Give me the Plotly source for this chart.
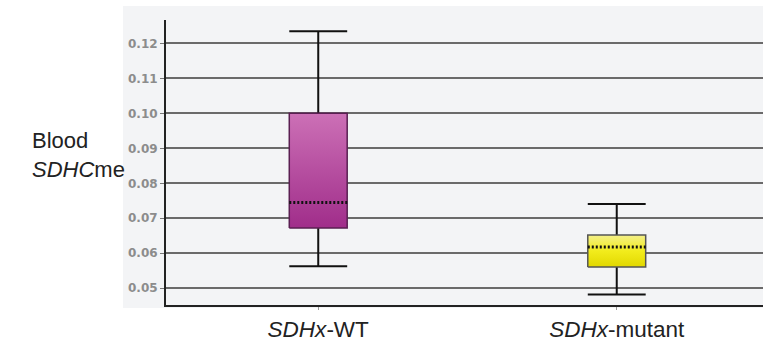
import plotly.graph_objects as go

# ---- data ----
categories = ["SDHx-WT", "SDHx-mutant"]
tick_text = ["<i>SDHx</i>-WT", "<i>SDHx</i>-mutant"]
lower_whisker = [0.0563, 0.0482]
q1 = [0.0672, 0.0561]
median = [0.0745, 0.0618]
q3 = [0.1000, 0.0652]
upper_whisker = [0.1235, 0.0741]
y_ticks = [0.05, 0.06, 0.07, 0.08, 0.09, 0.10, 0.11, 0.12]

# ---- styles ----
half_w = 0.097
fill_grad = [
    [[0, "#a02d8a"], [1, "#cc70b6"]],
    [[0, "#e2d800"], [0.5, "#f2ec1c"], [1, "#f4f08a"]],
]
border_col = ["#5a1f52", "#555555"]

fig = go.Figure()
for i, cat in enumerate(categories):
    x0, x1 = i - half_w, i + half_w
    # whiskers
    fig.add_trace(go.Scatter(x=[i, i], y=[q3[i], upper_whisker[i]], mode="lines",
                             line=dict(color="#111", width=2), hoverinfo="skip", showlegend=False))
    fig.add_trace(go.Scatter(x=[i, i], y=[lower_whisker[i], q1[i]], mode="lines",
                             line=dict(color="#111", width=2), hoverinfo="skip", showlegend=False))
    # caps
    fig.add_trace(go.Scatter(x=[x0, x1], y=[upper_whisker[i]] * 2, mode="lines",
                             line=dict(color="#111", width=2), hoverinfo="skip", showlegend=False))
    fig.add_trace(go.Scatter(x=[x0, x1], y=[lower_whisker[i]] * 2, mode="lines",
                             line=dict(color="#111", width=2), hoverinfo="skip", showlegend=False))
    # box
    fig.add_trace(go.Scatter(x=[x0, x1, x1, x0, x0], y=[q1[i], q1[i], q3[i], q3[i], q1[i]],
                             mode="lines", fill="toself",
                             fillgradient=dict(type="vertical", colorscale=fill_grad[i]),
                             line=dict(color=border_col[i], width=1.5),
                             name=cat, showlegend=False))
    # median (dotted)
    fig.add_trace(go.Scatter(x=[x0, x1], y=[median[i]] * 2, mode="lines",
                             line=dict(color="#111", width=3, dash="2px,2px"),
                             hoverinfo="skip", showlegend=False))

fig.update_layout(
    width=763, height=345,
    margin=dict(l=166, r=0, t=20, b=40),
    paper_bgcolor="white",
    plot_bgcolor="rgba(0,0,0,0)",
    showlegend=False,
    font=dict(family="Liberation Sans, Arial, sans-serif"),
    shapes=[dict(type="rect", xref="paper", yref="paper", x0=-0.072, x1=1.0,
                 y0=-0.0105, y1=1.049, fillcolor="#f3f4f6", line=dict(width=0),
                 layer="below")],
    annotations=[dict(text="Blood<br><i>SDHC</i>me", xref="paper", yref="paper",
                      x=-0.228, y=0.526, xanchor="left", yanchor="middle", align="left",
                      showarrow=False, font=dict(size=22, color="#222"))],
)
fig.update_xaxes(
    range=[-0.51, 1.49], tickvals=[0, 1], ticktext=tick_text,
    showgrid=False, zeroline=False,
    showline=True, linecolor="#222", linewidth=2,
    ticks="outside", ticklen=3, tickcolor="#999", tickwidth=1,
    tickfont=dict(size=22.5, color="#222"),
)
fig.update_yaxes(
    range=[0.0452, 0.1267], tickvals=y_ticks, tickformat=".2f",
    showgrid=True, gridcolor="#6a6a6a", gridwidth=2, zeroline=False,
    showline=True, linecolor="#222", linewidth=2,
    ticks="outside", ticklen=4, tickcolor="#777", tickwidth=1,
    tickfont=dict(size=12, color="#8c8c8c", family="DejaVu Sans", weight="bold"),
)

fig.write_html("out.html", config={"displayModeBar": False},
               post_script="document.body.style.margin='0';document.body.style.overflow='hidden';")
